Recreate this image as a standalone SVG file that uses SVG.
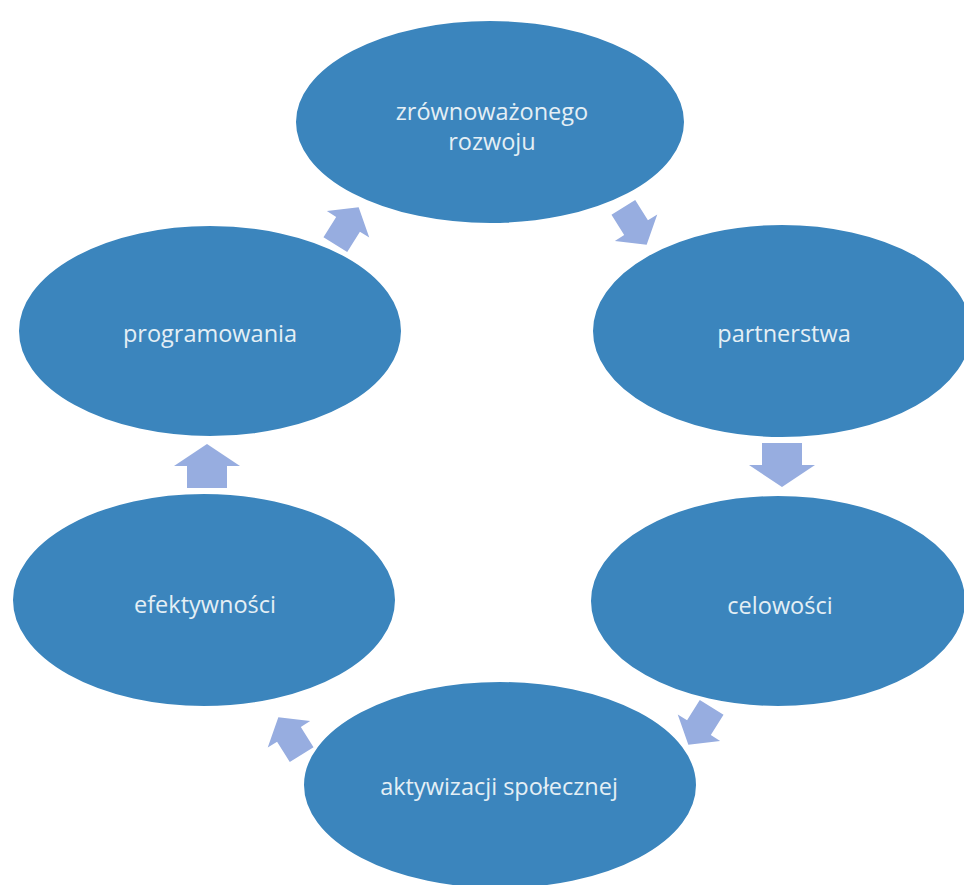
<svg xmlns="http://www.w3.org/2000/svg" width="964" height="885" viewBox="0 0 964 885">
  <defs>
    <style>
      .node { fill: #3b85bd; stroke: #ffffff; stroke-width: 2; }
      .lbl { fill: #e4eff5; font-family: "Open Sans", "Liberation Sans", sans-serif; font-size: 23.5px; text-anchor: middle; }
      .arr { fill: #97ade0; }
    </style>
    <path id="bigArrow" d="M-22,-20 L0,-20 L0,-33 L22,0 L0,33 L0,20 L-22,20 Z"/>
    <path id="smallArrow" d="M-22,-14 L2,-14 L2,-25 L22,0 L2,25 L2,14 L-22,14 Z"/>
  </defs>
  <rect width="964" height="885" fill="#ffffff"/>

  <g id="connectors">
    <use href="#smallArrow" class="arr" transform="translate(347,226) rotate(-58)"/>
    <use href="#smallArrow" class="arr" transform="translate(635,226) rotate(58)"/>
    <use href="#bigArrow" class="arr" transform="translate(782,465) rotate(90)"/>
    <use href="#smallArrow" class="arr" transform="translate(700,726) rotate(122)"/>
    <use href="#smallArrow" class="arr" transform="translate(290,736) rotate(-122)"/>
    <use href="#bigArrow" class="arr" transform="translate(207,466) rotate(-90)"/>
  </g>

  <g id="node-zrownowazonego">
    <ellipse class="node" cx="490" cy="122" rx="195" ry="102"/>
    <text class="lbl" x="492" y="120">zrównoważonego</text>
    <text class="lbl" x="492" y="150">rozwoju</text>
  </g>
  <g id="node-partnerstwa">
    <ellipse class="node" cx="782" cy="331" rx="190" ry="107"/>
    <text class="lbl" x="784" y="342">partnerstwa</text>
  </g>
  <g id="node-celowosci">
    <ellipse class="node" cx="778" cy="601" rx="188" ry="106"/>
    <text class="lbl" x="780" y="614">celowości</text>
  </g>
  <g id="node-aktywizacji">
    <ellipse class="node" cx="500" cy="785" rx="197" ry="104"/>
    <text class="lbl" x="499" y="795">aktywizacji społecznej</text>
  </g>
  <g id="node-efektywnosci">
    <ellipse class="node" cx="204" cy="600" rx="192" ry="107"/>
    <text class="lbl" x="205" y="613">efektywności</text>
  </g>
  <g id="node-programowania">
    <ellipse class="node" cx="210" cy="331" rx="192" ry="106"/>
    <text class="lbl" x="210" y="342">programowania</text>
  </g>
</svg>
